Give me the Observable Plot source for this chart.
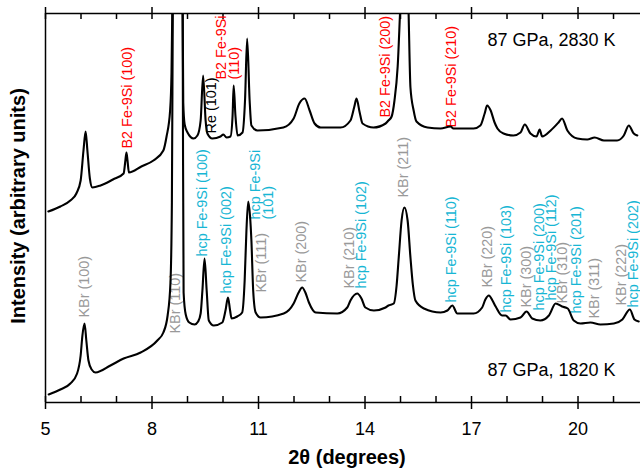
<!DOCTYPE html>
<html><head><meta charset="utf-8">
<script src="https://cdn.jsdelivr.net/npm/d3@7"></script>
<script src="https://cdn.jsdelivr.net/npm/@observablehq/plot@0.6"></script>
<style>body{margin:0;background:#fff} #chart svg{display:block}</style>
</head><body><div id="chart"></div>
<script>
// 87 GPa, 2830 K pattern (2θ in degrees, intensity in arbitrary units)
const theta2830 = [5.08,5.42,5.70,5.87,5.99,6.07,6.13,6.18,6.25,6.32,6.55,6.90,7.20,7.25,7.28,7.31,7.35,7.70,8.04,8.32,8.41,8.51,8.55,8.58,8.72,8.86,8.88,8.92,9.00,9.17,9.28,9.37,9.44,9.51,9.56,9.70,9.93,10.01,10.10,10.21,10.27,10.30,10.35,10.41,10.55,10.62,10.68,10.75,10.80,10.97,11.70,11.99,12.15,12.30,12.44,12.58,12.75,13.31,13.59,13.70,13.76,13.85,13.93,14.24,14.58,14.66,14.75,14.83,14.92,15.00,15.11,15.22,15.28,15.37,15.45,15.76,16.13,16.41,16.49,17.06,17.25,17.37,17.44,17.54,17.65,17.73,17.90,18.18,18.38,18.50,18.66,18.83,18.92,18.99,19.23,19.45,19.55,19.70,19.98,20.26,20.47,20.73,21.10,21.29,21.43,21.57,21.67];
const int2830 = [191,196,202,209,222,252,271,252,224,215,217,223,229,242,250,242,230,236,242,252,266,292,330,420,700,420,300,278,270,264,267,282,327,282,269,264,266,268,265,266,287,317,287,267,270,302,364,302,277,272,275,284,299,304,292,279,275,275,282,296,304,290,279,275,279,282,286,302,336,400,470,400,315,292,281,275,274,276,274,274,277,289,297,292,280,274,269,267,270,278,269,266,273,266,272,280,284,272,264,263,265,262,262,267,277,269,267];

// 87 GPa, 1820 K pattern
const theta1820 = [5.09,5.42,5.70,5.89,5.99,6.04,6.10,6.15,6.21,6.30,6.41,6.83,7.20,7.68,8.15,8.32,8.44,8.52,8.56,8.59,8.72,8.86,8.87,8.89,8.95,9.05,9.20,9.30,9.37,9.42,9.48,9.54,9.60,9.74,9.98,10.07,10.14,10.20,10.24,10.40,10.54,10.61,10.66,10.71,10.76,10.80,10.85,10.92,11.06,11.71,11.99,12.13,12.23,12.32,12.42,12.61,13.22,13.50,13.59,13.78,13.90,14.01,14.25,14.58,14.66,14.81,14.89,14.95,15.03,15.11,15.20,15.28,15.35,15.42,15.66,16.13,16.32,16.46,16.60,17.06,17.30,17.39,17.49,17.59,17.68,17.86,17.96,18.10,18.38,18.55,18.71,18.94,19.18,19.37,19.55,19.71,19.88,20.07,20.35,20.63,21.01,21.25,21.46,21.59,21.71];
const int1820 = [8,13,19,29,47,67,79,62,42,33,30,37,44,50,62,70,87,120,200,420,700,420,300,110,88,80,78,81,89,112,144,112,82,77,80,92,105,92,84,86,90,122,172,201,187,162,112,90,85,89,99,110,115,110,100,90,89,95,102,109,104,95,92,95,97,99,117,145,182,195,182,145,117,102,94,90,92,97,89,89,95,103,107,102,96,87,87,83,85,91,84,82,87,99,96,94,82,79,80,78,79,83,93,83,81];

// peak assignments
const peakText = ["B2 Fe-9Si (100)","Re (101)","B2 Fe-9Si\n(110)","B2 Fe-9Si (200)","B2 Fe-9Si (210)","KBr (100)","KBr (110)","hcp Fe-9Si (100)","hcp Fe-9Si (002)","hcp Fe-9Si\n(101)","KBr (111)","KBr (200)","KBr (210)","hcp Fe-9Si (102)","KBr (211)","hcp Fe-9Si (110)","KBr (220)","hcp Fe-9Si (103)","KBr (300)","hcp Fe-9Si (200)","hcp Fe-9Si (112)","KBr (310)","hcp Fe-9Si (201)","KBr (311)","KBr (222)","hcp Fe-9Si (202)"];
const peakTheta = [7.32,9.68,10.15,14.58,16.43,6.10,8.68,9.42,10.10,11.11,11.08,12.21,13.56,13.92,15.10,16.44,17.46,17.99,18.55,18.92,19.25,19.58,19.96,20.46,21.23,21.56];
const peakBase = [254,269,323,285,275,85,69,146,109,183,110,120,114,114,205,100,115,90,95,92,102,99,89,84,97,95];
const peakPhase = ["B2","Re","B2","B2","B2","KBr","KBr","hcp","hcp","hcp","KBr","KBr","KBr","hcp","KBr","hcp","KBr","hcp","KBr","hcp","hcp","KBr","hcp","KBr","KBr","hcp"];

const conditionText = ["87 GPa, 2830 K","87 GPa, 1820 K"];
const conditionTheta = [17.45,17.45];
const conditionLevel = [357,27];

const majorTicks = [5,8,11,14,17,20];
const minorTicks = [6,7,9,10,12,13,15,16,18,19,21];

const phaseColor = {B2:"#ff0000", Re:"#000000", KBr:"#999999", hcp:"#17b6d4"};

const pattern2830 = theta2830.map((t,i)=>({t, v:int2830[i]}));
const pattern1820 = theta1820.map((t,i)=>({t, v:int1820[i]}));
const peaks = peakText.map((text,i)=>({text, t:peakTheta[i], v:peakBase[i], color:phaseColor[peakPhase[i]]}));
const conditions = conditionText.map((text,i)=>({text, t:conditionTheta[i], v:conditionLevel[i]}));
const allTicks = majorTicks.concat(minorTicks);

const chart = Plot.plot({
  width: 640, height: 470,
  marginLeft: 45, marginRight: 0, marginTop: 13, marginBottom: 68,
  style: {fontFamily: "'Liberation Sans', Arial, Helvetica, sans-serif", background: "#fff", color: "#000"},
  x: {domain: [5, 21.76]},
  y: {domain: [0, 389], axis: null},
  color: {type: "identity"},
  marks: [
    Plot.axisX({ticks: majorTicks, tickSize: 7, tickPadding: 13, fontSize: 18, label: null, strokeWidth: 1.5}),
    Plot.ruleX(allTicks, {x: d=>d, y1: 0, y2: 6, strokeWidth: 1.5}),
    Plot.ruleX(allTicks, {x: d=>d, y1: 383, y2: 389, strokeWidth: 1.5}),
    Plot.ruleX(majorTicks, {x: d=>d, y1: 389, y2: 395, strokeWidth: 1.5}),
    Plot.ruleY([0, 389], {strokeWidth: 1.5}),
    Plot.ruleX([5], {strokeWidth: 1.5}),
    Plot.text(peaks, {x:"t", y:"v", text:"text", fill:"color", rotate:-90, textAnchor:"start", lineAnchor:"middle", fontSize:14.4, lineHeight:0.93}),
    Plot.line(pattern2830, {x:"t", y:"v", curve:"monotone-x", stroke:"#000", strokeWidth:2.1, clip:true}),
    Plot.line(pattern1820, {x:"t", y:"v", curve:"monotone-x", stroke:"#000", strokeWidth:2.1, clip:true}),
    Plot.text(conditions, {x:"t", y:"v", text:"text", textAnchor:"start", lineAnchor:"bottom", fontSize:18}),
    Plot.text(["2θ (degrees)"], {text: d=>d, frameAnchor:"bottom", textAnchor:"middle", lineAnchor:"bottom", dy:61, dx:4, fontSize:20, fontWeight:"bold"}),
    Plot.text(["Intensity (arbitrary units)"], {text: d=>d, frameAnchor:"left", textAnchor:"middle", lineAnchor:"middle", rotate:-90, dx:-27, dy:-2, fontSize:20, fontWeight:"bold"})
  ]
});
document.getElementById("chart").appendChild(chart);
</script>
</body></html>
